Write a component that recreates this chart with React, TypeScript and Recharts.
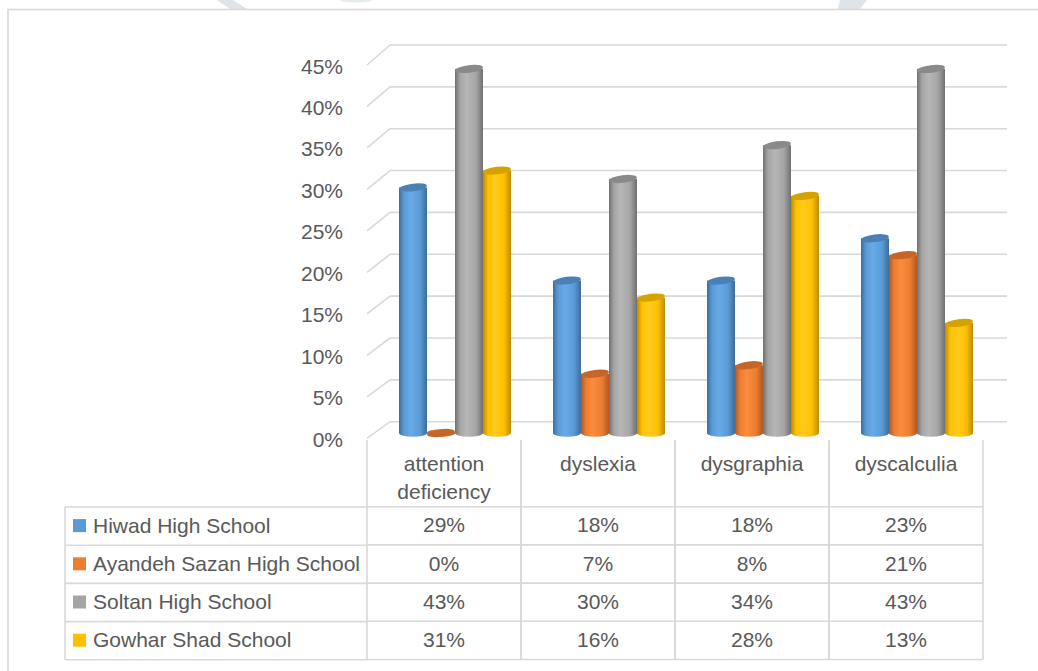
import React from 'react';
import { BarChart, Bar, XAxis, YAxis, CartesianGrid, Legend } from 'recharts';

// ---------- data ----------
const categories = ['attention deficiency', 'dyslexia', 'dysgraphia', 'dyscalculia'];
const categoryLines = [['attention', 'deficiency'], ['dyslexia'], ['dysgraphia'], ['dyscalculia']];
const seriesNames = ['Hiwad High School', 'Ayandeh Sazan High School', 'Soltan High School', 'Gowhar Shad School'];
const seriesKeys = ['hiwad', 'ayandeh', 'soltan', 'gowhar'];
const hiwad = [0.29, 0.18, 0.18, 0.23];
const ayandeh = [0, 0.07, 0.08, 0.21];
const soltan = [0.43, 0.30, 0.34, 0.43];
const gowhar = [0.31, 0.16, 0.28, 0.13];
const yTicks = [0, 0.05, 0.1, 0.15, 0.2, 0.25, 0.3, 0.35, 0.4, 0.45];
const Y_MAX = 0.45;

const seriesValues = [hiwad, ayandeh, soltan, gowhar];
const data = categories.map((c, i) => ({
  category: c,
  hiwad: hiwad[i],
  ayandeh: ayandeh[i],
  soltan: soltan[i],
  gowhar: gowhar[i],
}));

// ---------- styles ----------
const palette = [
  { base: '#5B9BD5', light: '#68AAE8', dark: '#3C6C9A', top: '#4A80B6' },
  { base: '#ED7D31', light: '#FA8C3E', dark: '#AE5820', top: '#C4662A' },
  { base: '#A5A5A5', light: '#B6B6B6', dark: '#707070', top: '#8A8A8A' },
  { base: '#FFC000', light: '#FFCB1E', dark: '#BC8D00', top: '#D6A200' },
];
const FONT = "'Liberation Sans', Arial, sans-serif";
const TEXT = '#595959';
const LINE = '#D9D9D9';
const FS = 21;

const W = 1038;
const H = 671;
const YW = 1;
const XH = 1;
const M = { top: 52, right: 44, bottom: 238 - XH, left: 378 - YW };
const PLOT_BOTTOM = 433;
const PLOT_H = PLOT_BOTTOM - M.top;
const PLOT_W = W - 378 - M.right;
const COL_W = PLOT_W / categories.length;
const DEPTH_X = 23;
const HEADER_H = 66.7;
const ROW_H = 38.2;
const pct = (v: number) => `${Math.round(v * 100)}%`;

// ---------- shapes ----------
const makeCylinder = (si: number) => (props: any) => {
  const { x, y, width, height } = props;
  const rx = width / 2;
  const ry = 3.8;
  const cx = x + rx;
  const c = palette[si];
  return (
    <g>
      <ellipse cx={cx} cy={y + height} rx={rx} ry={ry} fill={`url(#cyl${si})`} />
      <rect x={x} y={y} width={width} height={height} fill={`url(#cyl${si})`} />
      <ellipse cx={cx} cy={y} rx={rx} ry={ry} fill={c.top} transform={`rotate(-7 ${cx} ${y})`} />
    </g>
  );
};

const gridLine = (p: any) => {
  const t = (PLOT_BOTTOM - p.y1) / PLOT_H;
  const backY = p.y1 - 11.3 + 4.3 * t;
  const frontY = p.y1 + 5.3 + 7.7 * t;
  return (
    <g key={p.key}>
      <line x1={p.x1 - 11} y1={frontY} x2={p.x1 + DEPTH_X - 11} y2={backY} stroke={LINE} strokeWidth={1.6} />
      <line x1={p.x1 + DEPTH_X - 11} y1={backY} x2={p.x2 + 13} y2={backY} stroke={LINE} strokeWidth={1.6} />
    </g>
  );
};

const YTick = (props: any) => {
  const { y, payload } = props;
  const t = payload.value / Y_MAX;
  const frontY = y + 5.3 + 7.7 * t;
  return (
    <text x={378 - 35} y={frontY + 1} textAnchor="end" dominantBaseline="central" fontFamily={FONT} fontSize={FS} fill={TEXT}>
      {pct(payload.value)}
    </text>
  );
};

const TableColumn = (props: any) => {
  const { x, payload } = props;
  const i = payload.index;
  const cx = x - 11;
  const left = cx - COL_W / 2;
  const right = cx + COL_W / 2;
  const top = PLOT_BOTTOM + 7;
  const hb = top + HEADER_H;
  const bottom = hb + ROW_H * seriesValues.length;
  return (
    <g>
      <line x1={left} y1={top} x2={left} y2={bottom} stroke={LINE} strokeWidth={1.6} />
      <line x1={right} y1={top} x2={right} y2={bottom} stroke={LINE} strokeWidth={1.6} />
      {[0, 1, 2, 3, 4].map((k) => (
        <line key={k} x1={left} y1={hb + k * ROW_H} x2={right} y2={hb + k * ROW_H} stroke={LINE} strokeWidth={1.6} />
      ))}
      {categoryLines[i].map((ln, k) => (
        <text key={ln} x={cx} y={top + 23 + k * 28.5} textAnchor="middle" dominantBaseline="central" fontFamily={FONT} fontSize={FS} fill={TEXT}>
          {ln}
        </text>
      ))}
      {seriesValues.map((vals, k) => (
        <text key={k} x={cx} y={hb + ROW_H * (k + 0.5) - 1} textAnchor="middle" dominantBaseline="central" fontFamily={FONT} fontSize={FS} fill={TEXT}>
          {pct(vals[i])}
        </text>
      ))}
    </g>
  );
};

const LegendTable = (props: any) => {
  const items = [...(props.payload || [])].sort(
    (a: any, b: any) => seriesNames.indexOf(a.value) - seriesNames.indexOf(b.value)
  );
  const w = 303;
  return (
    <svg width={w + 4} height={ROW_H * 4 + 4} style={{ display: 'block' }}>
      <line x1={1} y1={1} x2={1} y2={1 + ROW_H * 4} stroke={LINE} strokeWidth={1.6} />
      {[0, 1, 2, 3, 4].map((k) => (
        <line key={k} x1={1} y1={1 + k * ROW_H} x2={w} y2={1 + k * ROW_H} stroke={LINE} strokeWidth={1.6} />
      ))}
      {items.map((it: any, k: number) => (
        <g key={k}>
          <rect x={9} y={1 + ROW_H * (k + 0.5) - 7} width={13} height={13} fill={it.color} />
          <text x={29} y={1 + ROW_H * (k + 0.5) - 1} dominantBaseline="central" fontFamily={FONT} fontSize={FS} fill={TEXT}>
            {it.value}
          </text>
        </g>
      ))}
    </svg>
  );
};

export default function App() {
  return (
    <div style={{ position: 'absolute', left: 0, top: 0, width: W, height: H, overflow: 'hidden', background: '#fff' }}>
      <svg width={W} height={H} style={{ position: 'absolute', left: 0, top: 0 }}>
        <polygon points="217,0 233,0 247,9 230,9" fill="#DEE4E8" />
        <polygon points="840,0 867,0 860,9 838,9" fill="#DEE4E8" />
        <ellipse cx={356} cy={0} rx={16} ry={2.5} fill="#E6EBEE" />
        <rect x={8} y={9.5} width={W + 10} height={H + 10} fill="none" stroke={LINE} strokeWidth={1.6} />
      </svg>
      <div style={{ position: 'absolute', left: 0, top: 0 }}>
        <BarChart width={W} height={H} data={data} margin={M} barGap={0} barSize={28}>
          <defs>
            {palette.map((c, si) => (
              <linearGradient key={si} id={`cyl${si}`} x1="0" y1="0" x2="1" y2="0">
                <stop offset="0%" stopColor={c.dark} />
                <stop offset="18%" stopColor={c.base} />
                <stop offset="42%" stopColor={c.light} />
                <stop offset="75%" stopColor={c.base} />
                <stop offset="100%" stopColor={c.dark} />
              </linearGradient>
            ))}
          </defs>
          <CartesianGrid vertical={false} horizontal={gridLine} stroke={LINE} />
          <YAxis
            domain={[0, Y_MAX]}
            ticks={yTicks}
            width={YW}
            axisLine={false}
            tickLine={false}
            tick={<YTick />}
            interval={0}
          />
          <XAxis
            dataKey="category"
            height={XH}
            axisLine={false}
            tickLine={false}
            tickSize={0}
            tickMargin={0}
            interval={0}
            tick={<TableColumn />}
          />
          <Legend
            layout="horizontal"
            verticalAlign="middle"
            align="center"
            content={<LegendTable />}
            wrapperStyle={{ position: 'absolute', left: 64, top: PLOT_BOTTOM + 7 + HEADER_H - 1, width: 310, height: 160, bottom: 'auto', right: 'auto' }}
          />
          {seriesKeys.map((k, si) => (
            <Bar
              key={k}
              dataKey={k}
              name={seriesNames[si]}
              fill={palette[si].base}
              isAnimationActive={false}
              shape={makeCylinder(si)}
            />
          ))}
        </BarChart>
      </div>
    </div>
  );
}
